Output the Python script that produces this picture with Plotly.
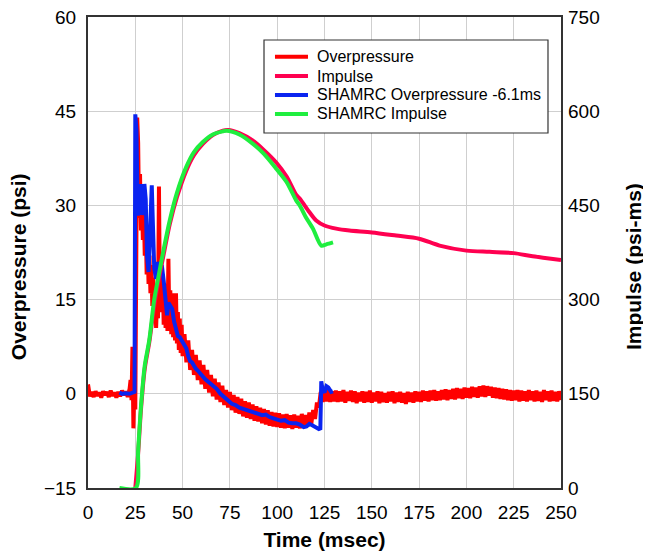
import plotly.graph_objects as go

# ---------------- data ----------------
# Measured overpressure (psi)
op_t_pre = [0, 1, 2, 3, 4, 5, 6, 7, 8, 9, 10, 11, 12, 13, 14, 15, 16, 17, 18, 19, 20, 21, 22]
op_v_pre = [1.5, -0.4, 0.3, -0.5, 0.4, -0.3, 0.2, -0.6, 0.4, -0.2, 0.3, -0.5, 0.5, -0.3,
            0.2, -0.6, 0.3, -0.4, 0.5, -0.2, 0.4, -0.5, 0.8]
op_t_peak = [22.5, 23.0, 23.5, 24.0, 24.5, 25.0, 25.5, 26.0, 26.5, 27.0, 27.5, 28.0, 28.5,
             29.0, 29.5, 30.0, 30.5, 31.0, 31.5, 32.0, 32.5, 33.0, 33.5, 34.0, 34.5, 35.0,
             35.5, 36.0, 36.5, 37.0, 37.5, 38.0, 38.5, 39.0, 39.5, 40.0, 40.5, 41.0, 41.5,
             42.0, 42.5, 43.0, 43.5, 44.0, 44.5, 45.0, 45.5, 46.0, 46.5, 47.0, 47.5, 48.0,
             48.5, 49.0, 49.5, 50.0]
op_v_peak = [2.2, -1.0, 7.5, -5.5, 1.5, -2.5, 14.0, 44.0, 40.0, 28.0, 35.0, 26.0, 31.0,
             24.5, 29.5, 22.0, 27.0, 19.0, 24.0, 17.5, 22.0, 16.0, 20.5, 14.0, 18.5, 12.5,
             17.0, 10.5, 15.0, 12.0, 33.0, 15.0, 21.0, 13.0, 19.0, 11.0, 17.5, 10.5, 16.0,
             10.0, 21.5, 11.0, 16.5, 9.5, 16.0, 9.0, 14.5, 8.5, 16.0, 8.0, 13.0, 7.0,
             12.0, 6.5, 11.0, 6.0]
op_t_tail = list(range(51, 251))
op_v_tail = [9.5, 5.0, 8.5, 3.8, 7.0, 3.0, 6.2, 2.2, 5.3, 1.5,
             4.6, 0.8, 3.8, 0.2, 3.0, -0.4, 2.4, -0.9, 1.8, -1.3,
             1.3, -1.8, 0.6, -2.2, 0.3, -2.6, -0.2, -3.0, -0.5, -3.2,
             -0.8, -3.6, -1.2, -3.8, -1.4, -4.0, -1.7, -4.3, -2.0, -4.4,
             -2.2, -4.7, -2.4, -4.9, -2.6, -5.1, -2.9, -5.2, -3.0, -5.3,
             -3.1, -5.4, -3.3, -5.5, -3.2, -5.4, -3.4, -5.6, -3.3, -5.4,
             -3.5, -5.5, -3.2, -5.3, -3.4, -5.2, -3.0, -4.8, -2.6, -4.0,
             -1.4, -2.2, 0.3, -1.3, 0.5, -1.2, 0.6, -1.3, 0.4, -1.2,
             0.5, -1.3, 0.4, -1.2, 0.6, -1.4, 0.3, -1.1, 0.5, -1.3,
             0.4, -1.5, 0.2, -1.2, 0.4, -1.4, 0.3, -1.3, 0.5, -1.4,
             0.2, -1.2, 0.4, -1.5, 0.3, -1.3, 0.1, -1.4, 0.3, -1.2,
             0.4, -1.5, 0.2, -1.3, 0.3, -1.4, 0.1, -1.6, 0.3, -1.3,
             0.2, -1.4, 0.4, -1.2, 0.3, -1.3, 0.5, -1.1, 0.4, -1.2,
             0.5, -1.0, 0.6, -1.1, 0.4, -1.0, 0.6, -0.9, 0.7, -1.0,
             0.6, -0.8, 0.8, -0.9, 0.9, -0.7, 0.8, -0.8, 1.0, -0.6,
             0.9, -0.7, 1.1, -0.5, 1.0, -0.6, 1.2, -0.4, 1.3, -0.5,
             1.2, -0.3, 1.1, -0.6, 1.0, -0.7, 0.9, -0.8, 0.8, -0.9,
             0.7, -1.0, 0.6, -1.1, 0.5, -1.0, 0.6, -1.2, 0.5, -1.1,
             0.4, -1.2, 0.6, -1.0, 0.4, -1.2, 0.5, -1.1, 0.3, -1.3,
             0.6, -1.0, 0.4, -1.2, 0.5, -1.1, 0.3, -1.2, 0.4, -1.0]
op_t = op_t_pre + op_t_peak + op_t_tail
op_v = op_v_pre + op_v_peak + op_v_tail

# Measured impulse (psi-ms)
imp_t = [25, 26.5, 28, 30, 32.4, 35, 37.9, 40, 43.2, 47, 51.9, 56, 60.7, 66, 71.3, 74,
         80, 87.2, 93, 99.6, 105, 110, 111.9, 117.1, 120.6, 125, 131.2, 138.2, 150,
         162.9, 175, 185.8, 200, 212.2, 225, 235, 250]
imp_v = [0, 55, 125, 190, 232, 290, 340, 372, 420, 463, 505, 530, 548, 562, 569, 570,
         565, 553, 538, 518, 496, 467, 461, 439, 426, 418, 413, 410, 407,
         402, 397, 386, 378, 376, 374, 369, 363]

# SHAMRC overpressure shifted -6.1 ms (psi)
sh_op_t = [16.6, 18, 20, 22, 24.6, 25.0, 25.6, 26.3, 27.0, 27.8, 28.5, 29.2, 29.8, 30.5,
           31.2, 32.0, 32.6, 33.2, 33.7, 34.3, 35.0, 36.0, 37.0, 38.0, 39.0, 40.0, 41.0,
           41.8, 42.5, 43.5, 44.5, 45.5, 46.5, 47.5, 48.5, 49.5, 51, 52, 53, 54, 55, 56,
           57, 58, 59, 60, 62, 64, 66, 68, 70, 72, 74, 76, 78, 80, 82, 84, 86, 88, 90,
           92, 94, 96, 98, 100, 102, 104, 106, 108, 110, 112, 114, 115.5, 117, 118.5,
           120, 122, 122.8, 123.3, 124, 125, 126, 127, 128.5, 129.5]
sh_op_v = [0.2, 0.0, 0.1, 0.0, 0.3, 44.5, 42.0, 28.4, 30.0, 33.4, 28.5, 29.5, 33.4, 31.0,
           22.0, 19.4, 24.0, 31.0, 33.2, 27.0, 20.0, 18.3, 21.0, 19.8, 20.5, 18.0, 14.0,
           12.5, 14.5, 14.0, 13.5, 11.5, 10.0, 9.2, 9.0, 8.4, 7.5, 7.2, 6.0, 5.2, 5.0, 4.3,
           4.0, 3.7, 3.2, 3.0, 2.3, 1.8, 1.2, 0.8, 0.0, -0.5, -0.9, -1.6, -1.8, -2.2, -2.4,
           -2.6, -2.9, -3.0, -3.2, -3.4, -3.3, -3.7, -3.9, -4.1, -4.3, -4.2, -4.6, -4.7,
           -4.7, -4.9, -5.3, -5.2, -4.8, -5.0, -5.3, -5.6, -5.5, 2.0, 0.6, 0.2, 1.2, 1.0,
           0.3, 0.4]

# SHAMRC impulse (psi-ms)
sh_imp_t = [16.6, 25.3, 26.5, 28, 30, 32.4, 35, 37.9, 40, 43.2, 47, 51.9, 56, 60.7, 66,
            71.3, 73.1, 80, 87.2, 93, 99.6, 105, 110, 111.9, 115, 118.9, 123.3, 126, 129.5]
sh_imp_v = [0, 0, 60, 130, 195, 236, 300, 347, 380, 426, 470, 511, 535, 551, 563,
            568, 569, 563, 548, 532, 508, 487, 458, 450, 432, 413, 386, 388, 391]

x_ticks = [0, 25, 50, 75, 100, 125, 150, 175, 200, 225, 250]
y_ticks = [-15, 0, 15, 30, 45, 60]
y2_ticks = [0, 150, 300, 450, 600, 750]

series_names = ["Overpressure", "Impulse", "SHAMRC Overpressure -6.1ms", "SHAMRC Impulse"]
series_colors = ["#FF0000", "#FF0050", "#0A24F0", "#1FEE3F"]

# ---------------- figure ----------------
FONT = "Arial, Liberation Sans, sans-serif"

fig = go.Figure()
fig.add_trace(go.Scatter(x=op_t, y=op_v, mode="lines", name=series_names[0],
                         line=dict(color=series_colors[0], width=4), yaxis="y"))
fig.add_trace(go.Scatter(x=imp_t, y=imp_v, mode="lines", name=series_names[1],
                         line=dict(color=series_colors[1], width=4, shape="spline",
                                   smoothing=0.8), yaxis="y2"))
fig.add_trace(go.Scatter(x=sh_op_t, y=sh_op_v, mode="lines", name=series_names[2],
                         line=dict(color=series_colors[2], width=4), yaxis="y"))
fig.add_trace(go.Scatter(x=sh_imp_t, y=sh_imp_v, mode="lines", name=series_names[3],
                         line=dict(color=series_colors[3], width=4, shape="spline",
                                   smoothing=0.8), yaxis="y2"))

axis_common = dict(showgrid=True, gridcolor="#CFCFCF", gridwidth=1.3, ticks="",
                   zeroline=False, automargin=False, ticklabeloverflow="allow",
                   tickfont=dict(family=FONT, size=19, color="#000"))

# legend drawn as a framed box with line samples and texts (paper coordinates)
L_X0, L_X1, L_Y0, L_Y1 = 0.3721, 0.9725, 0.7537, 0.9512
row_y = [0.9157, 0.8747, 0.8344, 0.7941]
SAMPLE_X0, SAMPLE_X1, TEXT_X = 0.3953, 0.4651, 0.4800

shapes = [dict(type="rect", xref="paper", yref="paper",
               x0=L_X0, x1=L_X1, y0=L_Y0, y1=L_Y1,
               line=dict(color="#333", width=1.2), fillcolor="white", layer="above")]
annotations = []
for name, col, yy in zip(series_names, series_colors, row_y):
    shapes.append(dict(type="line", xref="paper", yref="paper",
                       x0=SAMPLE_X0, x1=SAMPLE_X1, y0=yy, y1=yy,
                       line=dict(color=col, width=4), layer="above"))
    annotations.append(dict(xref="paper", yref="paper", x=TEXT_X, y=yy,
                            xanchor="left", yanchor="middle", showarrow=False,
                            text=name, font=dict(family=FONT, size=16, color="#000")))

# vertical axis titles
annotations.append(dict(xref="paper", yref="paper", x=-0.148, y=0.471,
                        xanchor="center", yanchor="middle", showarrow=False,
                        textangle=-90, text="<b>Overpressure (psi)</b>",
                        font=dict(family=FONT, size=21, color="#000")))
annotations.append(dict(xref="paper", yref="paper", x=1.152, y=0.471,
                        xanchor="center", yanchor="middle", showarrow=False,
                        textangle=-90, text="<b>Impulse (psi-ms)</b>",
                        font=dict(family=FONT, size=21, color="#000")))

# the page places the figure 8px in from the top-left corner
fig.update_layout(
    width=643, height=546,
    margin=dict(l=80, r=90, t=9, b=66),
    paper_bgcolor="white", plot_bgcolor="white",
    font=dict(family=FONT, color="#000"),
    showlegend=False,
    xaxis=dict(range=[0, 250], tickvals=x_ticks, showline=True, linecolor="#333",
               linewidth=2, mirror=True, ticklabelstandoff=6,
               title=dict(text="<b>Time (msec)</b>", font=dict(family=FONT, size=21),
                          standoff=11),
               **axis_common),
    yaxis=dict(range=[-15, 60], tickvals=y_ticks, showline=True, linecolor="#333",
               linewidth=2, mirror=True, ticklabelstandoff=6,
               **axis_common),
    yaxis2=dict(range=[0, 750], tickvals=y2_ticks, overlaying="y", side="right",
                showgrid=False, ticks="", zeroline=False, showline=False,
                automargin=False, ticklabelstandoff=6, ticklabeloverflow="allow",
                tickfont=dict(family=FONT, size=19, color="#000")),
    shapes=shapes,
    annotations=annotations,
)

fig.write_html("out.html")
